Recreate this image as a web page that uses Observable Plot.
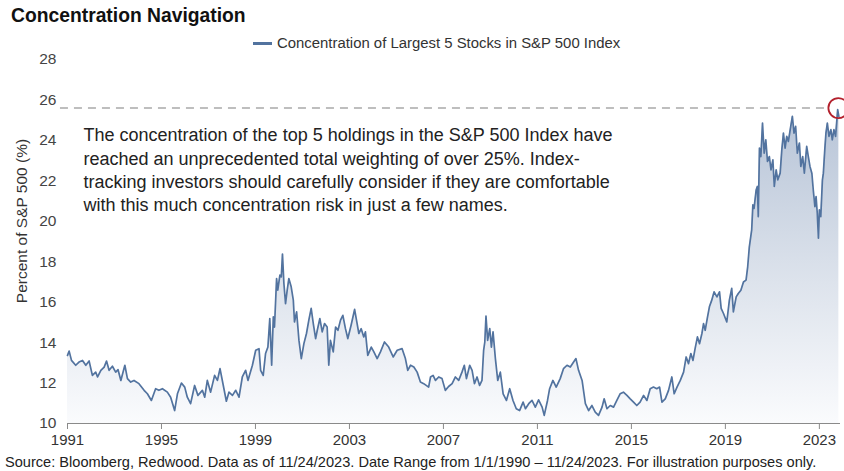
<!DOCTYPE html>
<html><head><meta charset="utf-8">
<script src="https://cdn.jsdelivr.net/npm/d3@7"></script>
<script src="https://cdn.jsdelivr.net/npm/@observablehq/plot@0.6"></script>
<style>
body{margin:0;background:#fff;font-family:"Liberation Sans",Arial,sans-serif;width:844px;height:471px;overflow:hidden;position:relative}
#title{position:absolute;left:11px;top:5px;font-size:19.3px;font-weight:bold;color:#111;white-space:nowrap;z-index:2}
#legend{position:absolute;left:253px;top:34px;height:18px;font-size:14.9px;color:#333;display:flex;align-items:center;white-space:nowrap;z-index:2}
#legend .sw{width:19px;height:3px;background:#52739f;margin-right:5px}
#chart{position:absolute;left:0;top:43px;z-index:1}
#ylab{position:absolute;left:22px;top:221px;transform:translate(-50%,-50%) rotate(-90deg);font-size:15.5px;color:#333;white-space:nowrap;z-index:2}
#source{position:absolute;left:5px;top:454px;font-size:14.6px;color:#222;white-space:nowrap;z-index:2}
</style></head>
<body>
<div id="chart"></div>
<div id="title">Concentration Navigation</div>
<div id="legend"><span class="sw"></span><span>Concentration of Largest 5 Stocks in S&amp;P 500 Index</span></div>
<div id="ylab">Percent of S&amp;P 500 (%)</div>
<div id="source">Source: Bloomberg, Redwood. Data as of 11/24/2023. Date Range from 1/1/1990 – 11/24/2023. For illustration purposes only.</div>
<script>
const years = [
1991.00,1991.07,1991.17,1991.35,1991.49,1991.64,1991.78,1991.92,1992.06,1992.20,1992.28,1992.42,1992.56,1992.66,1992.77,1992.91,
1993.05,1993.15,1993.27,1993.44,1993.55,1993.69,1993.83,1994.04,1994.26,1994.40,1994.57,1994.75,1994.89,1995.04,1995.25,1995.39,
1995.56,1995.68,1995.85,1995.99,1996.10,1996.24,1996.41,1996.55,1996.74,1996.84,1996.95,1997.09,1997.26,1997.38,1997.49,1997.63,
1997.76,1997.87,1998.02,1998.16,1998.30,1998.44,1998.58,1998.68,1998.87,1999.01,1999.15,1999.22,1999.33,1999.43,1999.53,1999.61,
1999.69,1999.76,1999.81,1999.90,1999.95,2000.04,2000.10,2000.15,2000.21,2000.28,2000.35,2000.42,2000.52,2000.61,2000.66,2000.75,
2000.85,2000.95,2001.06,2001.17,2001.27,2001.37,2001.46,2001.56,2001.63,2001.74,2001.84,2001.94,2002.05,2002.12,2002.19,2002.31,
2002.41,2002.51,2002.62,2002.72,2002.83,2002.93,2003.07,2003.22,2003.30,2003.40,2003.50,2003.61,2003.68,2003.78,2003.93,2004.04,
2004.18,2004.32,2004.49,2004.67,2004.86,2005.03,2005.24,2005.38,2005.48,2005.60,2005.74,2005.88,2006.02,2006.16,2006.37,2006.45,
2006.56,2006.66,2006.80,2006.94,2007.08,2007.22,2007.37,2007.51,2007.65,2007.79,2007.89,2007.98,2008.12,2008.22,2008.32,2008.43,
2008.54,2008.64,2008.71,2008.76,2008.81,2008.88,2008.97,2009.04,2009.11,2009.21,2009.31,2009.42,2009.54,2009.68,2009.82,2009.96,
2010.10,2010.24,2010.39,2010.49,2010.63,2010.77,2010.91,2011.05,2011.20,2011.29,2011.43,2011.52,2011.66,2011.80,2011.97,2012.11,
2012.26,2012.40,2012.54,2012.64,2012.75,2012.90,2013.04,2013.18,2013.32,2013.46,2013.60,2013.75,2013.84,2013.96,2014.10,2014.24,
2014.38,2014.52,2014.66,2014.81,2014.95,2015.09,2015.23,2015.37,2015.52,2015.66,2015.80,2015.94,2016.08,2016.20,2016.30,2016.44,
2016.58,2016.72,2016.82,2016.94,2017.08,2017.22,2017.33,2017.43,2017.53,2017.62,2017.71,2017.81,2017.90,2018.00,2018.07,2018.14,
2018.24,2018.32,2018.42,2018.52,2018.64,2018.75,2018.82,2018.92,2019.06,2019.17,2019.27,2019.34,2019.46,2019.55,2019.66,2019.77,
2019.88,2019.95,2020.02,2020.12,2020.17,2020.22,2020.31,2020.36,2020.40,2020.45,2020.51,2020.58,2020.65,2020.72,2020.79,2020.87,
2020.94,2021.02,2021.08,2021.16,2021.23,2021.33,2021.40,2021.47,2021.54,2021.61,2021.68,2021.78,2021.85,2021.92,2021.99,2022.06,
2022.15,2022.21,2022.29,2022.36,2022.46,2022.53,2022.60,2022.68,2022.74,2022.81,2022.86,2022.91,2022.96,2023.00,2023.06,2023.13,
2023.17,2023.23,2023.28,2023.34,2023.41,2023.49,2023.55,2023.62,2023.69,2023.74,2023.78,2023.83
];
const values = [
13.37,13.58,13.12,12.88,13.04,13.12,12.88,13.09,12.38,12.54,12.30,12.63,12.79,13.09,12.63,12.83,
12.54,12.66,12.13,12.88,12.22,12.05,12.13,11.97,11.64,11.47,11.14,11.72,11.64,11.72,11.55,11.30,
10.64,11.47,12.00,11.80,11.30,10.98,11.88,11.39,11.64,11.30,12.13,11.55,12.38,12.13,12.71,11.88,
11.10,11.55,11.39,11.64,11.30,12.30,12.63,12.13,12.88,13.62,13.70,12.63,12.38,13.46,13.78,15.19,
12.88,15.27,14.77,17.17,16.59,17.34,17.25,18.38,16.93,15.93,16.59,17.17,16.76,16.10,15.02,15.52,
14.11,13.21,13.95,14.45,15.11,15.69,14.94,14.20,14.61,15.19,14.53,14.94,14.77,12.88,14.11,13.54,
14.77,14.61,15.11,15.35,14.69,14.20,14.86,15.64,15.11,14.45,14.69,14.28,14.53,13.37,13.78,13.54,
13.21,13.54,14.03,13.78,13.29,13.62,13.70,13.21,12.63,12.88,12.79,12.54,12.05,11.97,11.80,12.30,
12.38,12.13,12.30,12.22,11.64,11.83,11.97,12.30,12.13,12.54,12.88,12.22,12.88,12.63,11.97,12.30,
11.88,12.13,13.62,14.03,15.31,14.11,14.69,13.78,14.53,13.21,12.13,12.54,11.47,11.14,11.72,11.14,
10.73,10.64,11.06,10.73,10.98,11.14,10.81,11.17,10.81,10.40,11.14,11.72,12.13,11.80,12.22,12.71,
12.88,12.79,13.04,13.21,12.63,12.13,10.98,10.64,10.89,10.56,10.40,10.81,11.22,10.73,10.89,10.81,
11.14,11.47,11.55,11.39,11.22,11.06,10.89,11.06,11.39,11.14,11.72,11.80,11.72,11.80,11.06,11.22,
11.64,12.30,11.47,11.80,12.13,12.54,13.29,12.96,13.46,13.12,13.70,14.28,13.95,14.45,14.94,14.61,
15.27,15.77,16.10,16.51,16.26,16.51,15.69,15.44,15.02,16.10,16.68,15.52,16.26,16.43,16.59,17.00,
17.09,17.75,18.74,19.57,20.81,20.64,21.55,21.72,20.23,23.62,23.20,24.86,23.37,24.03,22.96,23.20,
22.54,23.04,21.72,22.54,22.05,22.38,23.53,24.36,23.62,24.20,23.95,24.69,25.19,24.36,24.69,23.37,
23.87,22.71,23.20,22.38,23.70,23.20,22.71,22.38,21.55,20.72,21.22,20.40,19.16,20.56,20.23,22.05,
22.38,23.53,24.36,24.86,24.20,24.53,24.03,24.53,24.20,24.94,25.52,25.19
];
const xTickYears = [1991,1995,1999,2003,2007,2011,2015,2019,2023];
const yTicks = [10,12,14,16,18,20,22,24,26,28];
const xDomainYears = [1991.0, 2023.9];
const peakLevel = [25.6];
const peakYear = [2023.81];
const dashYears = [1990.70, 2023.38];
const annotation = "The concentration of the top 5 holdings in the S&P 500 Index have\nreached an unprecedented total weighting of over 25%. Index-\ntracking investors should carefully consider if they are comfortable\nwith this much concentration risk in just a few names.";

const toDate = y => { const yr = Math.floor(y); const s = Date.UTC(yr,0,1), e = Date.UTC(yr+1,0,1); return new Date(s + (y-yr)*(e-s)); };
const data = years.map((y,i) => ({date: toDate(y), value: values[i]}));
const lineColor = "#52739f";

const gradient = () => {
  const ns = "http://www.w3.org/2000/svg";
  const defs = document.createElementNS(ns, "defs");
  const lg = document.createElementNS(ns, "linearGradient");
  lg.setAttribute("id", "areaGrad"); lg.setAttribute("x1","0"); lg.setAttribute("y1","0"); lg.setAttribute("x2","0"); lg.setAttribute("y2","1");
  [["0%","#b7c4d7"],["55%","#dde3ec"],["100%","#fafbfd"]].forEach(([o,c]) => {
    const st = document.createElementNS(ns, "stop"); st.setAttribute("offset", o); st.setAttribute("stop-color", c); lg.appendChild(st);
  });
  defs.appendChild(lg);
  return defs;
};

const chart = Plot.plot({
  width: 844, height: 410,
  marginTop: 16, marginBottom: 30, marginLeft: 67, marginRight: 4,
  style: {fontFamily: '"Liberation Sans",Arial,sans-serif', background: "transparent", overflow: "visible"},
  x: {type: "utc", domain: xDomainYears.map(toDate)},
  y: {domain: [10, 28]},
  marks: [
    gradient,
    Plot.areaY(data, {x: "date", y1: 10, y2: "value", fill: "url(#areaGrad)"}),
    Plot.ruleY(peakLevel, {y: d => d, x1: toDate(dashYears[0]), x2: toDate(dashYears[1]), stroke: "#a9a9a9", strokeWidth: 1.5, strokeDasharray: "8,6"}),
    Plot.lineY(data, {x: "date", y: "value", stroke: lineColor, strokeWidth: 1.7}),
    Plot.ruleY([10], {stroke: "#8a8a8a", strokeWidth: 1.2}),
    Plot.axisX({ticks: xTickYears.map(toDate), tickFormat: d3.utcFormat("%Y"), tickSize: 6, tickPadding: 5, stroke: "#8a8a8a", fill: "#333", fontSize: 15, label: null}),
    Plot.axisY({ticks: yTicks, tickSize: 0, tickPadding: 11, fill: "#444", fontSize: 15.5, label: null}),
    Plot.dot(peakYear.map((y,i) => ({date: toDate(y), value: peakLevel[i]})), {x: "date", y: "value", r: 10, stroke: "#b3202c", strokeWidth: 1.8, fill: "none"}),
    Plot.text([annotation], {frameAnchor: "top-left", lineAnchor: "top", textAnchor: "start", dx: 16, dy: 65, fontSize: 18, lineHeight: 1.3, fill: "#222"})
  ]
});
document.getElementById("chart").appendChild(chart);
</script>
</body></html>
